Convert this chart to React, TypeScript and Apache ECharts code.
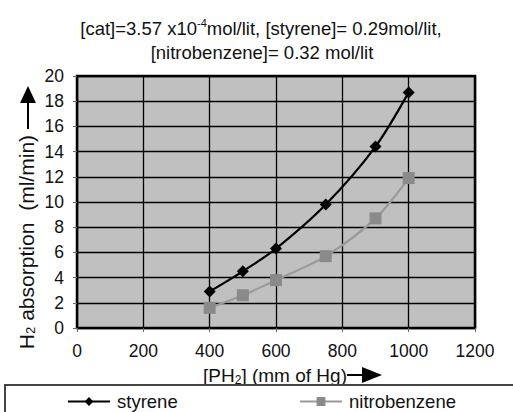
import React, { useEffect, useRef } from "react";
import * as echarts from "echarts";

const xValues = [400, 500, 600, 750, 900, 1000];
const styrene = [2.9, 4.5, 6.3, 9.8, 14.4, 18.7];
const nitrobenzene = [1.6, 2.6, 3.8, 5.7, 8.7, 11.9];
const seriesNames = ["styrene", "nitrobenzene"];
const xAxisRange = { min: 0, max: 1200, interval: 200 };
const yAxisRange = { min: 0, max: 20, interval: 2 };

const FONT = "'Liberation Sans', Arial, sans-serif";

export default function App() {
  const ref = useRef<HTMLDivElement>(null);
  useEffect(() => {
    if (!ref.current) return;
    const chart = echarts.init(ref.current, undefined, { renderer: "svg" });
    const legendBase = {
      top: 392,
      padding: 0,
      itemWidth: 42,
      itemHeight: 11,
      itemGap: 0,
      textStyle: { fontSize: 18.5, color: "#111", fontFamily: FONT, padding: [0, 0, 0, 2] },
    };
    const option: any = {
      animation: false,
      backgroundColor: "#ffffff",
      textStyle: { fontFamily: FONT },
      grid: {
        left: 77,
        right: 38,
        top: 76,
        bottom: 84,
        show: true,
        backgroundColor: "#c0c0c0",
        borderColor: "#000",
        borderWidth: 2.5,
      },
      xAxis: {
        type: "value",
        ...xAxisRange,
        axisLine: { show: false },
        axisTick: { show: true, length: 4, lineStyle: { color: "#666", width: 1 } },
        axisLabel: {
          color: "#111",
          fontSize: 17.5,
          margin: 14,
          fontFamily: FONT,
          formatter: (v: number) => String(v),
        },
        splitLine: { show: true, lineStyle: { color: "#000", width: 1.3 } },
      },
      yAxis: {
        type: "value",
        ...yAxisRange,
        axisLine: { show: false },
        axisTick: { show: true, length: 4, lineStyle: { color: "#666", width: 1 } },
        axisLabel: { color: "#111", fontSize: 17.5, margin: 13, fontFamily: FONT },
        splitLine: { show: true, lineStyle: { color: "#000", width: 1.3 } },
      },
      legend: [
        { ...legendBase, data: [seriesNames[0]], left: 67 },
        { ...legendBase, data: [seriesNames[1]], left: 299 },
      ],
      series: [
        {
          name: seriesNames[0],
          type: "line",
          smooth: 0.3,
          data: xValues.map((x, i) => [x, styrene[i]]),
          symbol: "diamond",
          symbolSize: 12,
          itemStyle: { color: "#000" },
          lineStyle: { color: "#000", width: 2.2 },
          z: 4,
        },
        {
          name: seriesNames[1],
          type: "line",
          smooth: 0.3,
          data: xValues.map((x, i) => [x, nitrobenzene[i]]),
          symbol: "rect",
          symbolSize: 12,
          itemStyle: { color: "#8a8a8a" },
          lineStyle: { color: "#9a9a9a", width: 2.2 },
          z: 3,
        },
      ],
      graphic: [
        {
          type: "text",
          x: 261,
          y: 28,
          style: {
            text: "[cat]=3.57 x10{sup|-4}mol/lit, [styrene]= 0.29mol/lit,",
            align: "center",
            verticalAlign: "middle",
            fontSize: 18.5,
            fontFamily: FONT,
            fill: "#111",
            rich: {
              sup: { fontSize: 11, verticalAlign: "top", padding: [0, 0, 10, 0], fontFamily: FONT, fill: "#111" },
            },
          },
        },
        {
          type: "text",
          x: 262,
          y: 52,
          style: {
            text: "[nitrobenzene]= 0.32 mol/lit",
            align: "center",
            verticalAlign: "middle",
            fontSize: 18.5,
            fontFamily: FONT,
            fill: "#111",
          },
        },
        {
          type: "text",
          x: 275,
          y: 375,
          style: {
            text: "[PH{sub|2}] (mm of Hg)",
            align: "center",
            verticalAlign: "middle",
            fontSize: 19,
            fontFamily: FONT,
            fill: "#111",
            rich: { sub: { fontSize: 12, padding: [9, 0, 0, 0], fontFamily: FONT, fill: "#111" } },
          },
        },
        { type: "line", shape: { x1: 347, y1: 375, x2: 364, y2: 375 }, style: { stroke: "#000", lineWidth: 2 } },
        { type: "polygon", shape: { points: [[382, 375], [362, 367], [362, 383]] }, style: { fill: "#000" } },
        {
          type: "text",
          x: 27,
          y: 242,
          rotation: Math.PI / 2,
          scaleX: 1.08,
          style: {
            text: "H{sub|2} absorption  (ml/min)",
            align: "center",
            verticalAlign: "middle",
            fontSize: 19.5,
            fontFamily: FONT,
            fill: "#111",
            rich: { sub: { fontSize: 12, padding: [9, 0, 0, 0], fontFamily: FONT, fill: "#111" } },
          },
        },
        { type: "line", shape: { x1: 28, y1: 129, x2: 28, y2: 101 }, style: { stroke: "#000", lineWidth: 2 } },
        { type: "polygon", shape: { points: [[28, 86], [20, 103], [36, 103]] }, style: { fill: "#000" } },
        {
          type: "rect",
          shape: { x: 5, y: 385, width: 600, height: 100 },
          style: { fill: "none", stroke: "#444", lineWidth: 2 },
        },
      ],
    };
    chart.setOption(option);
    return () => chart.dispose();
  }, []);
  return (
    <div
      ref={ref}
      style={{ position: "fixed", left: 0, top: 0, width: 513, height: 412 }}
    />
  );
}
